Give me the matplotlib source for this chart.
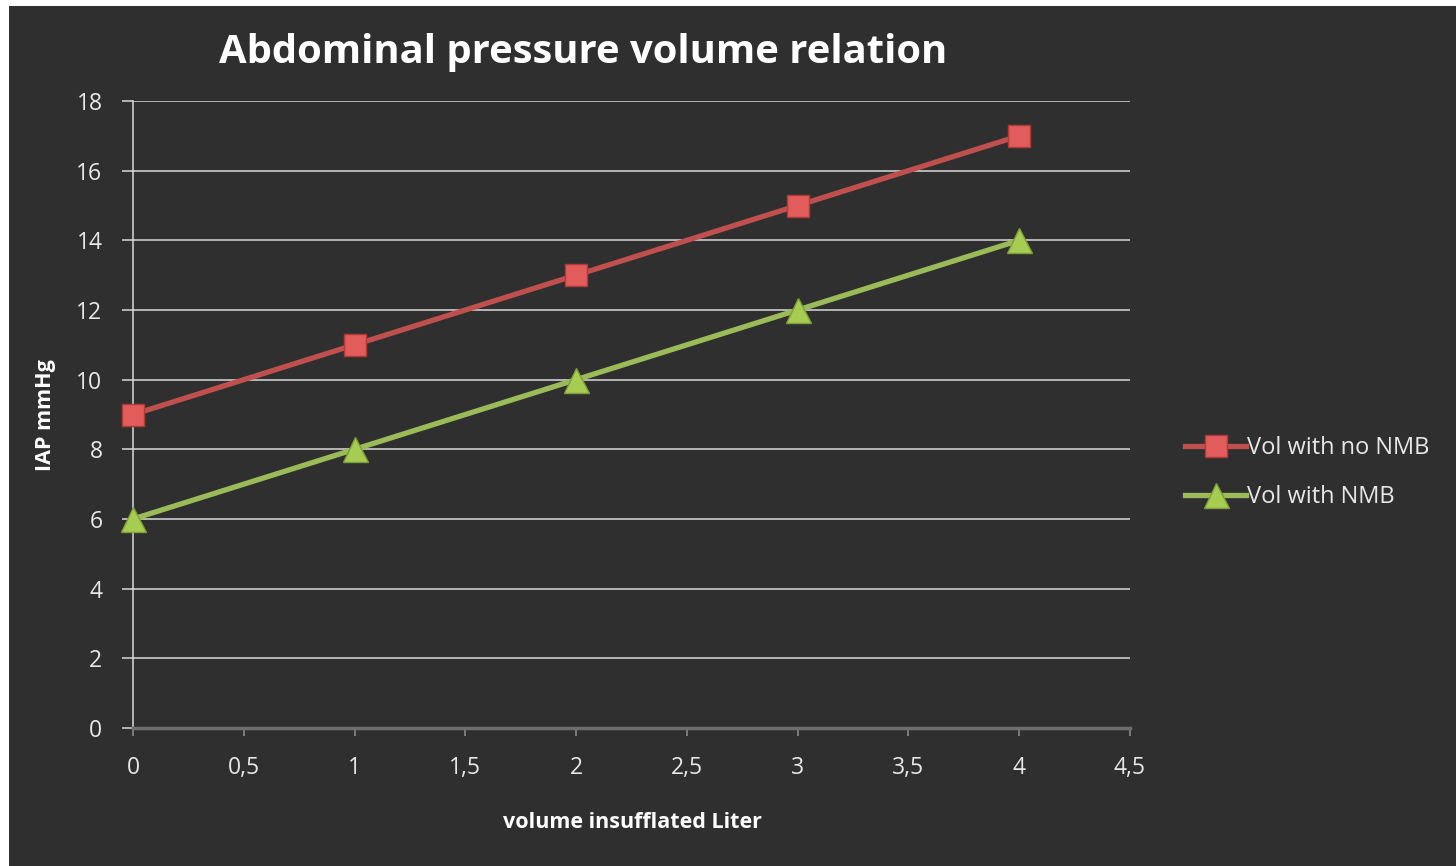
import matplotlib.pyplot as plt
from matplotlib.patches import Rectangle

# === Data ===
volume = [0, 1, 2, 3, 4]
iap_no_nmb = [9, 11, 13, 15, 17]
iap_nmb = [6, 8, 10, 12, 14]
x_ticks = [0, 0.5, 1, 1.5, 2, 2.5, 3, 3.5, 4, 4.5]
x_tick_labels = ["0", "0,5", "1", "1,5", "2", "2,5", "3", "3,5", "4", "4,5"]
y_ticks = [0, 2, 4, 6, 8, 10, 12, 14, 16, 18]

bg = "#2f2f2f"
red = "#c0504d"
green = "#9bbb59"

plt.rcParams["font.family"] = ["Open Sans", "DejaVu Sans"]

fig = plt.figure(figsize=(14.56, 8.66), dpi=100, facecolor="white")
# dark panel with a thin white margin at top and left
fig.patches.append(Rectangle((9 / 1456, 0), 1, 1 - 6 / 866, transform=fig.transFigure,
                             facecolor=bg, edgecolor="none", zorder=-1))

ax = fig.add_axes([133 / 1456, 138 / 866, (1130 - 133) / 1456, (728 - 101) / 866])
ax.set_facecolor(bg)

ax.plot(volume, iap_no_nmb, color=red, lw=3.8, marker="s", ms=16,
        mfc="#e25c5c", mec="#b03a38", mew=1, label="Vol with no NMB", zorder=3,
        clip_on=False)
ax.plot(volume, iap_nmb, color=green, lw=3.8, marker="^", ms=18,
        mfc="#a6cc52", mec="#7e9e3a", mew=1, label="Vol with NMB", zorder=3,
        clip_on=False)

ax.set_xlim(0, 4.5)
ax.set_ylim(0, 18)
ax.set_xticks(x_ticks)
ax.set_xticklabels(x_tick_labels)
ax.set_yticks(y_ticks)

for y in y_ticks[1:]:
    ax.axhline(y, color="#d9d9d9", lw=1.1, zorder=1)

for s in ["top", "right"]:
    ax.spines[s].set_visible(False)
ax.spines["left"].set_color("#d9d9d9")
ax.spines["left"].set_linewidth(1.1)
ax.spines["bottom"].set_color("#6e6e6e")
ax.spines["bottom"].set_linewidth(2.5)

ax.tick_params(axis="x", colors="#8a8a8a", length=6, width=1.2, pad=14, labelsize=16.5,
               labelcolor="#e8e8e8")
ax.tick_params(axis="y", colors="#d9d9d9", length=8, width=1.1, pad=14, labelsize=16.5,
               labelcolor="#e8e8e8")

fig.text(583 / 1456, 1 - 52 / 866, "Abdominal pressure volume relation", color="white",
         fontsize=28.8, fontweight="bold", ha="center", va="center")
fig.text(632 / 1456, 1 - 822 / 866, "volume insufflated Liter", color="white",
         fontsize=15.5, fontweight="bold", ha="center", va="center")
fig.text(46 / 1456, 1 - 415 / 866, "IAP mmHg", color="white", fontsize=15.5,
         fontweight="bold", ha="center", va="center", rotation=90)

leg = ax.legend(loc="center left", bbox_to_anchor=(1.055, 0.407), frameon=False,
                fontsize=17, labelcolor="#e8e8e8", handlelength=2.6,
                handletextpad=0.05, labelspacing=1.05, borderpad=0, borderaxespad=0)

fig.savefig("out.png", dpi=100, facecolor=fig.get_facecolor())
